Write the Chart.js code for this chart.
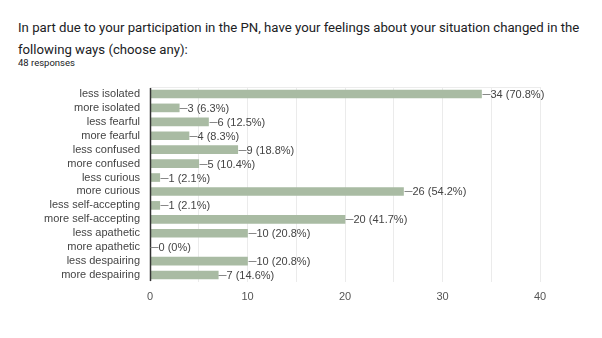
<!DOCTYPE html>
<html><head><meta charset="utf-8">
<script src="https://cdn.jsdelivr.net/npm/chart.js@4/dist/chart.umd.min.js"></script>
<style>
html,body{margin:0;padding:0;background:#fff;}
#wrap{position:relative;width:602px;height:338px;overflow:hidden;}
#title{position:absolute;left:18px;top:17px;white-space:nowrap;font-family:Roboto,"Noto Sans",sans-serif;font-size:13.2px;line-height:22px;color:#202124;}
#sub{position:absolute;left:18px;top:57px;font-family:Roboto,sans-serif;font-size:9.5px;color:#202124;}
canvas{position:absolute;left:0;top:0;}
</style></head>
<body><div id="wrap">
<div id="title">In part due to your participation in the PN, have your feelings about your situation changed in the<br>following ways (choose any):</div>
<div id="sub">48 responses</div>
<canvas id="c" width="602" height="338"></canvas>
</div>
<script>
const categories = ["less isolated","more isolated","less fearful","more fearful","less confused","more confused","less curious","more curious","less self-accepting","more self-accepting","less apathetic","more apathetic","less despairing","more despairing"];
const counts = [34,3,6,4,9,5,1,26,1,20,10,0,10,7];
const percentLabels = ["70.8%","6.3%","12.5%","8.3%","18.8%","10.4%","2.1%","54.2%","2.1%","41.7%","20.8%","0%","20.8%","14.6%"];
const xTicks = [0,10,20,30,40];

const valueLabels = {
  id:'valueLabels',
  afterDatasetsDraw(chart){
    const ctx = chart.ctx;
    const meta = chart.getDatasetMeta(0);
    ctx.save();
    ctx.font = '11px "Liberation Sans", Arial, sans-serif';
    ctx.fillStyle = '#444';
    ctx.strokeStyle = '#888';
    ctx.lineWidth = 1;
    ctx.textBaseline = 'middle';
    meta.data.forEach((bar,i)=>{
      const x = Math.round(bar.x)+0.5, y = Math.round(bar.y)+0.5;
      ctx.beginPath(); ctx.moveTo(x,y); ctx.lineTo(x+8,y); ctx.stroke();
      ctx.fillText(counts[i]+' ('+percentLabels[i]+')', x+8, y+0.5);
    });
    ctx.restore();
  }
};
const frame = {
  id:'frame',
  beforeDatasetsDraw(chart){
    const {ctx, chartArea:a} = chart;
    ctx.save();
    ctx.strokeStyle = '#ececec'; ctx.lineWidth=1;
    ctx.beginPath(); ctx.moveTo(a.left, a.top+0.5); ctx.lineTo(a.right, a.top+0.5); ctx.stroke();
    ctx.restore();
  },
  afterDatasetsDraw(chart){
    const {ctx, chartArea:a} = chart;
    ctx.save();
    ctx.strokeStyle = '#333'; ctx.lineWidth=1.5;
    ctx.beginPath(); ctx.moveTo(a.left+0.5, a.top+1); ctx.lineTo(a.left+0.5, a.bottom-1); ctx.stroke();
    ctx.restore();
  }
};

new Chart(document.getElementById('c'), {
  type:'bar',
  data:{labels:categories, datasets:[{data:counts, backgroundColor:'#a9bba3', borderWidth:0, barThickness:8}]},
  options:{
    indexAxis:'y', responsive:false, animation:false, devicePixelRatio:1,
    layout:{padding:{top:87,left:0,right:62,bottom:32}},
    plugins:{legend:{display:false}, tooltip:{enabled:false}},
    scales:{
      x:{min:0,max:40,
        ticks:{stepSize:5, padding:8, color:'#555', font:{size:11,family:'"Liberation Sans", Arial, sans-serif'},
          callback:(v)=> xTicks.includes(v)? String(v) : ''},
        grid:{color:'#ebebeb', drawTicks:false}, border:{display:false},
        afterFit(s){ s.height = 24; }
      },
      y:{
        ticks:{color:'#444', padding:10, autoSkip:false, font:{size:11,family:'"Liberation Sans", Arial, sans-serif'}},
        grid:{display:false, drawTicks:false}, border:{display:false},
        afterFit(s){ s.width = 150; }
      }
    }
  },
  plugins:[frame, valueLabels]
});
</script></body></html>
